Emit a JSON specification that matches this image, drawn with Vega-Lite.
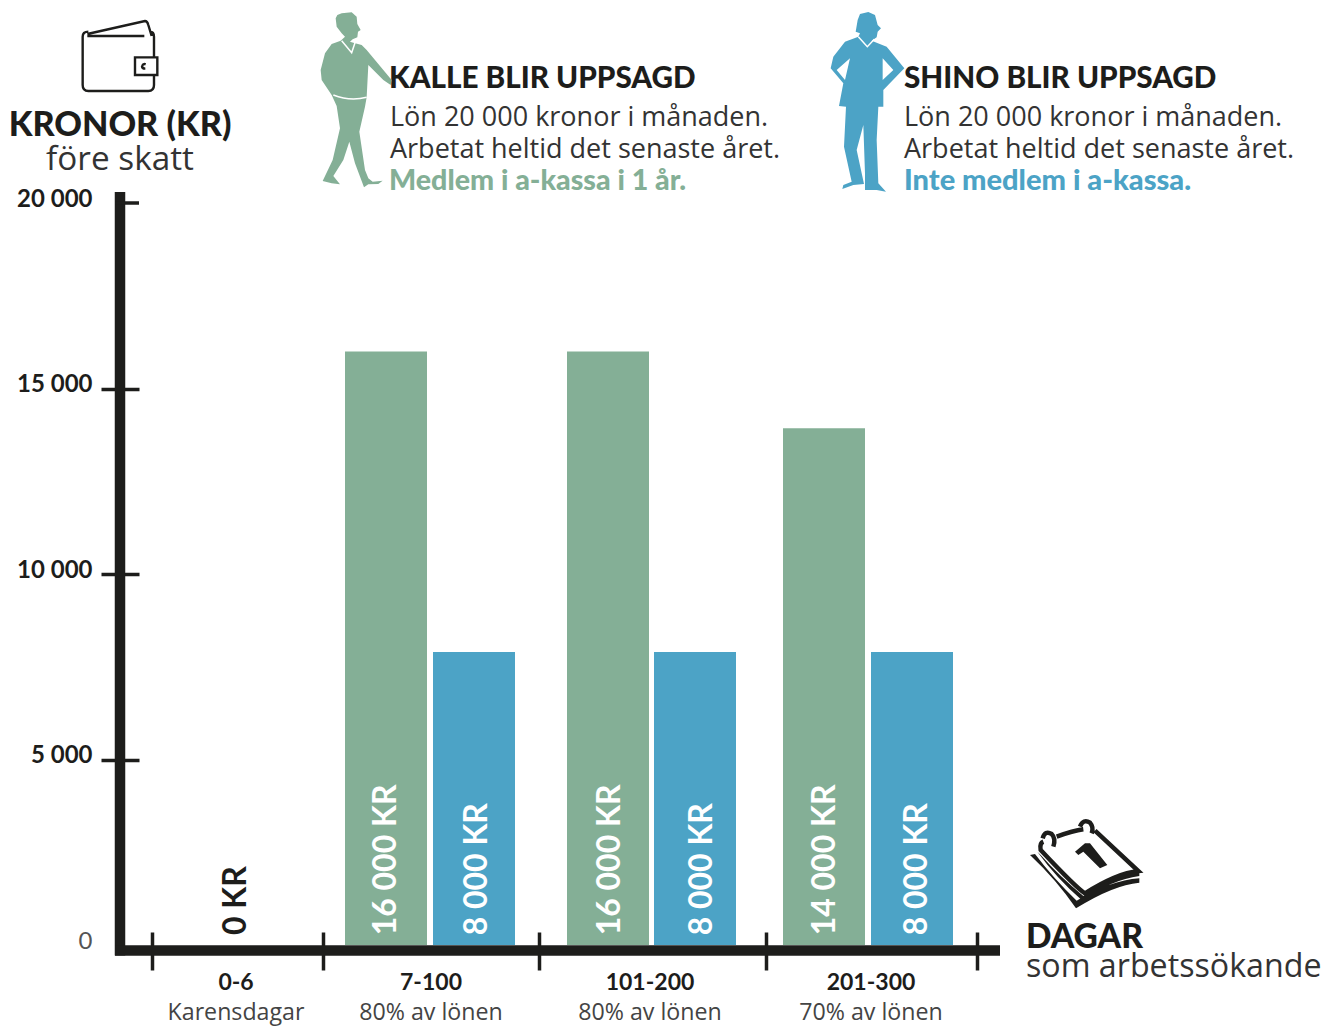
{"$schema":"https://vega.github.io/schema/vega-lite/v6.json","width":1324,"height":742,"autosize":{"type":"none"},"padding":{"left":0,"top":203,"right":0,"bottom":81},"background":"white","config":{"view":{"stroke":null},"font":"Open Sans"},
"layer":[
{"data":{"values":[{"person":"Kalle","group":"7-100","x0":345,"x1":427,"amount":16000},{"person":"Shino","group":"7-100","x0":433,"x1":515,"amount":7900},{"person":"Kalle","group":"101-200","x0":567,"x1":649,"amount":16000},{"person":"Shino","group":"101-200","x0":654,"x1":736,"amount":7900},{"person":"Kalle","group":"201-300","x0":783,"x1":865,"amount":13930},{"person":"Shino","group":"201-300","x0":871,"x1":953,"amount":7900}]},
"mark":{"type":"rect"},
"encoding":{"x":{"field":"x0","type":"quantitative","scale":{"domain":[0,1324],"nice":false,"zero":false},"axis":{"orient":"bottom","values":[152,323,539,766,977],"offset":-13,"tickSize":38,"tickWidth":3.5,"tickColor":"#1d1d1b","domain":false,"labels":false,"grid":false,"title":null}},"x2":{"field":"x1"},
"y":{"field":"amount","type":"quantitative","scale":{"domain":[0,20000],"nice":false},"axis":{"orient":"left","values":[0,5000,10000,15000,20000],"offset":-139,"tickSize":38,"tickWidth":3.5,"tickColor":"#1d1d1b","tickOpacity":{"condition":{"test":"datum.value==0||datum.value==20000","value":0},"value":1},"domain":false,"grid":false,"title":null,"labelPadding":9,"labelOffset":-4,"labelFont":"Lato","labelFontSize":24,"labelFontWeight":{"condition":{"test":"datum.value==0","value":400},"value":700},"labelColor":{"condition":{"test":"datum.value==0","value":"#555555"},"value":"#1d1d1b"},"labelExpr":"replace(format(datum.value,','),',',' ')"}},
"y2":{"datum":0},
"color":{"field":"person","type":"nominal","scale":{"domain":["Kalle","Shino"],"range":["#84AF96","#4CA3C6"]},"legend":null}}},
{"data":{"values":[{"part":"y axis","x0":120,"x1":120,"v0":20296,"v1":-283},{"part":"x axis","x0":115,"x1":1000,"v0":-148,"v1":-148}]},"mark":{"type":"rule","strokeWidth":10.5,"color":"#1d1d1b"},"encoding":{"x":{"field":"x0","type":"quantitative"},"x2":{"field":"x1"},"y":{"field":"v0","type":"quantitative"},"y2":{"field":"v1"}}},
{"data":{"values":[{"x0":115,"x1":139,"v":20000}]},"mark":{"type":"rule","strokeWidth":3.5,"color":"#1d1d1b"},"encoding":{"x":{"field":"x0","type":"quantitative"},"x2":{"field":"x1"},"y":{"field":"v","type":"quantitative"}}},
{"data":{"values":[{"label":"16 000 KR","xc":386},{"label":"16 000 KR","xc":610},{"label":"14 000 KR","xc":825},{"label":"8 000 KR","xc":477},{"label":"8 000 KR","xc":702},{"label":"8 000 KR","xc":917}]},"mark":{"type":"text","font":"Lato","angle":270,"align":"left","baseline":"middle","fontSize":32,"fontWeight":700,"color":"white"},"encoding":{"x":{"field":"xc","type":"quantitative"},"y":{"datum":260},"text":{"field":"label"}}},
{"data":{"values":[{"label":"0 KR","xc":236}]},"mark":{"type":"text","font":"Lato","angle":270,"align":"left","baseline":"middle","fontSize":32,"fontWeight":700,"color":"#1d1d1b"},"encoding":{"x":{"field":"xc","type":"quantitative"},"y":{"datum":270},"text":{"field":"label"}}},
{"data":{"values":[{"label":"KRONOR (KR)","xc":120,"v":21806}]},"mark":{"type":"text","font":"Lato","align":"center","baseline":"alphabetic","fontSize":34.2,"fontWeight":900,"color":"#1d1d1b"},"encoding":{"x":{"field":"xc","type":"quantitative"},"y":{"field":"v","type":"quantitative"},"text":{"field":"label"}}},
{"data":{"values":[{"label":"DAGAR","xc":1026,"v":-81}]},"mark":{"type":"text","font":"Lato","align":"left","baseline":"alphabetic","fontSize":33.6,"fontWeight":900,"color":"#1d1d1b"},"encoding":{"x":{"field":"xc","type":"quantitative"},"y":{"field":"v","type":"quantitative"},"text":{"field":"label"}}},
{"data":{"values":[{"label":"före skatt","xc":120,"v":20890}]},"mark":{"type":"text","align":"center","baseline":"alphabetic","fontSize":33.3,"color":"#333333"},"encoding":{"x":{"field":"xc","type":"quantitative"},"y":{"field":"v","type":"quantitative"},"text":{"field":"label"}}},
{"data":{"values":[{"label":"som arbetssökande","xc":1026,"v":-863}]},"mark":{"type":"text","align":"left","baseline":"alphabetic","fontSize":32.2,"color":"#333333"},"encoding":{"x":{"field":"xc","type":"quantitative"},"y":{"field":"v","type":"quantitative"},"text":{"field":"label"}}},
{"data":{"values":[{"label":"KALLE BLIR UPPSAGD","xc":389,"v":23100},{"label":"SHINO BLIR UPPSAGD","xc":904,"v":23100}]},"mark":{"type":"text","font":"Lato","align":"left","baseline":"alphabetic","fontSize":29.7,"fontWeight":900,"color":"#1d1d1b"},"encoding":{"x":{"field":"xc","type":"quantitative"},"y":{"field":"v","type":"quantitative"},"text":{"field":"label"}}},
{"data":{"values":[{"label":"Lön 20 000 kronor i månaden.","xc":390,"v":22075},{"label":"Arbetat heltid det senaste året.","xc":390,"v":21213},{"label":"Lön 20 000 kronor i månaden.","xc":904,"v":22075},{"label":"Arbetat heltid det senaste året.","xc":904,"v":21213}]},"mark":{"type":"text","align":"left","baseline":"alphabetic","fontSize":27,"color":"#333333"},"encoding":{"x":{"field":"xc","type":"quantitative"},"y":{"field":"v","type":"quantitative"},"text":{"field":"label"}}},
{"data":{"values":[{"label":"Medlem i a-kassa i 1 år.","xc":389,"v":20350}]},"mark":{"type":"text","font":"Lato","align":"left","baseline":"alphabetic","fontSize":28.6,"fontWeight":900,"color":"#84AF96"},"encoding":{"x":{"field":"xc","type":"quantitative"},"y":{"field":"v","type":"quantitative"},"text":{"field":"label"}}},
{"data":{"values":[{"label":"Inte medlem i a-kassa.","xc":904,"v":20350}]},"mark":{"type":"text","font":"Lato","align":"left","baseline":"alphabetic","fontSize":29,"fontWeight":900,"color":"#4CA3C6"},"encoding":{"x":{"field":"xc","type":"quantitative"},"y":{"field":"v","type":"quantitative"},"text":{"field":"label"}}},
{"data":{"values":[{"label":"0-6","xc":236},{"label":"7-100","xc":431},{"label":"101-200","xc":650},{"label":"201-300","xc":871}]},"mark":{"type":"text","font":"Lato","align":"center","baseline":"alphabetic","fontSize":23,"fontWeight":700,"color":"#1d1d1b"},"encoding":{"x":{"field":"xc","type":"quantitative"},"y":{"datum":-1213},"text":{"field":"label"}}},
{"data":{"values":[{"label":"Karensdagar","xc":236},{"label":"80% av lönen","xc":431},{"label":"80% av lönen","xc":650},{"label":"70% av lönen","xc":871}]},"mark":{"type":"text","align":"center","baseline":"alphabetic","fontSize":23.2,"color":"#444444"},"encoding":{"x":{"field":"xc","type":"quantitative"},"y":{"datum":-2020},"text":{"field":"label"}}},
{"data":{"values":[{"icon":"Kalle","xc":300,"v":25472}]},"mark":{"type":"point","filled":true,"opacity":1,"size":0.4444,"color":"#84AF96","shape":"M107,55 L112,45 L125,40 L155,37 L170,50 L172,72 L182,90 L174,95 L172,112 L158,118 L150,125 L160,128 L185,135 L200,150 L275,240 L272,255 L250,240 L205,195 L200,292 L195,320 L178,395 L195,510 L205,535 L218,545 L248,542 L235,552 L205,553 L192,562 L165,490 L148,425 L130,480 L100,528 L120,553 L95,550 L68,543 L98,480 L120,385 L110,318 L95,285 L65,240 L62,210 L75,160 L95,132 L122,122 L135,110 L125,100 L110,80 Z"},"encoding":{"x":{"field":"xc","type":"quantitative"},"y":{"field":"v","type":"quantitative"}}},
{"data":{"values":[{"icon":"Kalle details","xc":300,"v":25472}]},"mark":{"type":"point","filled":false,"opacity":1,"size":0.4444,"color":"white","strokeWidth":1.5,"shape":"M125,122 L155,158 L165,128 M100,285 Q150,305 200,292"},"encoding":{"x":{"field":"xc","type":"quantitative"},"y":{"field":"v","type":"quantitative"}}},
{"data":{"values":[{"icon":"Shino","xc":815,"v":25472}]},"mark":{"type":"point","filled":true,"opacity":1,"size":0.4444,"color":"#4CA3C6","shape":"M122,95 L128,60 L135,42 L160,36 L180,45 L188,75 L198,85 L188,95 L185,112 L170,122 L215,140 L268,205 L205,270 L205,320 L190,320 L185,420 L190,550 L213,575 L185,570 L150,570 L150,520 L145,375 L125,450 L147,552 L115,555 L82,567 L85,555 L110,545 L87,440 L93,320 L72,318 L85,250 L47,205 L55,170 L90,125 L130,110 L135,100 Z M105,175 L65,210 L90,240 Z M203,175 L203,240 L235,210 Z"},"encoding":{"x":{"field":"xc","type":"quantitative"},"y":{"field":"v","type":"quantitative"}}},
{"data":{"values":[{"icon":"Shino details","xc":815,"v":25472}]},"mark":{"type":"point","filled":false,"opacity":1,"size":0.4444,"color":"white","strokeWidth":1.5,"shape":"M130,110 L157,140 L178,118"},"encoding":{"x":{"field":"xc","type":"quantitative"},"y":{"field":"v","type":"quantitative"}}},
{"data":{"values":[{"icon":"wallet","xc":60,"v":25202}]},"mark":{"type":"point","filled":false,"opacity":1,"size":0.4444,"color":"#1d1d1b","strokeWidth":2.4,"shape":"M85,65 Q68,65 68,80 L68,225 Q68,243 85,243 L265,243 Q282,243 282,225 L282,195 M282,142 L282,80 Q282,65 270,65 M82,78 L253,78 M82,72 L255,33 Q262,33 265,45 L275,78 M225,142 L292,142 L292,195 L225,195 Z M246,168 Q250,160 257,163 M246,168 Q246,176 256,176"},"encoding":{"x":{"field":"xc","type":"quantitative"},"y":{"field":"v","type":"quantitative"}}},
{"data":{"values":[{"icon":"calendar page","xc":1020,"v":3639}]},"mark":{"type":"point","filled":false,"opacity":1,"size":0.4444,"color":"#1d1d1b","strokeWidth":4.5,"shape":"M110,80 Q160,62 190,58 M225,62 L355,183 Q290,190 195,250 Q170,235 62,120 Q58,100 70,95 M68,85 Q75,60 95,72 Q108,85 100,110 M180,50 Q190,25 210,38 Q222,52 215,70"},"encoding":{"x":{"field":"xc","type":"quantitative"},"y":{"field":"v","type":"quantitative"}}},
{"data":{"values":[{"icon":"calendar sheets and digit","xc":1020,"v":3639}]},"mark":{"type":"point","filled":true,"opacity":1,"size":0.4444,"color":"#1d1d1b","shape":"M165,125 L195,100 L210,100 L262,165 L240,175 L190,125 L175,135 Z M30,135 L45,132 Q100,205 170,272 Q270,212 358,205 L358,218 Q280,225 168,295 Q110,210 30,135 Z M52,125 L62,135 Q120,200 190,258 Q270,198 358,186 L358,198 Q275,210 185,270 Q110,205 52,125 Z"},"encoding":{"x":{"field":"xc","type":"quantitative"},"y":{"field":"v","type":"quantitative"}}}
]}
